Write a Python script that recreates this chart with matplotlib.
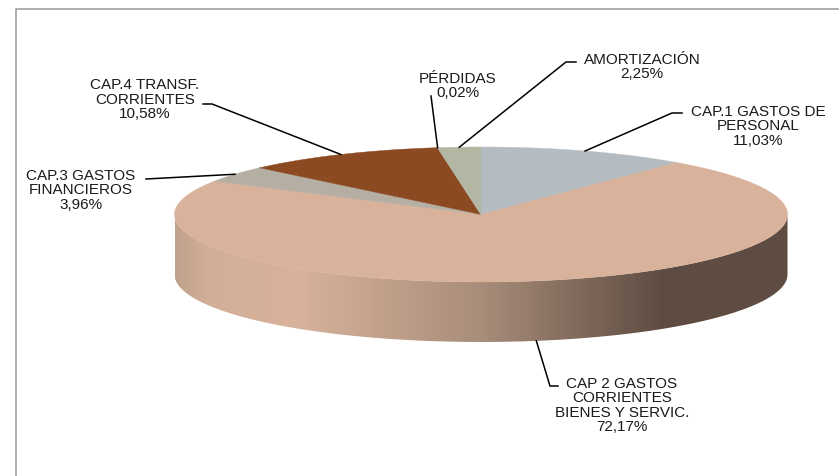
import numpy as np
import matplotlib
matplotlib.use("Agg")
import matplotlib.pyplot as plt
from matplotlib.colors import LinearSegmentedColormap
from matplotlib.patches import PathPatch, Polygon
from matplotlib.path import Path

###
### Data
###
labels = ["CAP.1 GASTOS DE\nPERSONAL",
          "CAP 2 GASTOS\nCORRIENTES\nBIENES Y SERVIC.",
          "CAP.3 GASTOS\nFINANCIEROS",
          "CAP.4 TRANSF.\nCORRIENTES",
          "PÉRDIDAS",
          "AMORTIZACIÓN"]
values = [11.03, 72.17, 3.96, 10.58, 0.02, 2.25]
value_labels = ["11,03%", "72,17%", "3,96%", "10,58%", "0,02%", "2,25%"]
colors = ["#B4BCC1", "#D8B29B", "#B5AFA3", "#8C4A23", "#B3B6A3", "#B3B6A3"]

###
### Layout (pixels)
###
W, H = 839, 477
cx, cy = 481, 215.5
rx, ry = 306.5, 67.5
depth = 60

# label centre, first bend of the leader, end of the leader next to the text
label_pos = [(758, 126.5), (622, 405.5), (81, 190.5), (145, 99.5), (458, 86), (642, 67)]
bends = [(672, 114), (550, 387), (146, 180), (212, 105), (431, 97), (566, 63)]
ends = [(682, 114), (558, 387), (146, 180), (203, 105), (431, 97), (576, 63)]

side_stops = [(0.00, "#BFA18D"), (0.05, "#D2AE98"), (0.20, "#D8B29B"),
              (0.50, "#A88D7A"), (0.80, "#5E4B41"), (1.00, "#5F4C42")]
side_cmap = LinearSegmentedColormap.from_list("side", side_stops)


def rim(angle, dy=0):
    # angle in degrees, clockwise from 12 o'clock
    a = np.radians(angle)
    return cx + rx*np.sin(a), cy - ry*np.cos(a) + dy


fig = plt.figure(figsize=(W/100, H/100), dpi=100)
ax = fig.add_axes([0, 0, 1, 1])
ax.set_xlim(0, W)
ax.set_ylim(H, 0)
ax.axis("off")

# chart frame
ax.plot([16, 16, 839], [477, 10, 10], color="#A0A0A0", lw=1.2, zorder=1)

# side of the pie
front = np.linspace(90, 270, 200)
xt, yt = rim(front)
xb, yb = rim(front[::-1], depth)
side = np.column_stack([np.r_[xt, xb], np.r_[yt, yb]])
clip = PathPatch(Path(np.vstack([side, side[:1]])), fc="none", ec="none", zorder=2)
ax.add_patch(clip)
grad = np.linspace(0, 1, 512).reshape(1, -1)
im = ax.imshow(grad, cmap=side_cmap, aspect="auto", zorder=2,
               extent=(cx-rx, cx+rx, cy+ry+depth, cy-ry))
im.set_clip_path(clip)
ax.set_xlim(0, W)
ax.set_ylim(H, 0)

# top of the pie
edges = np.r_[0, np.cumsum(values)]/np.sum(values)*360
for i, col in enumerate(colors):
    theta = np.linspace(edges[i], edges[i+1], 200)
    x, y = rim(theta)
    pts = np.column_stack([np.r_[cx, x], np.r_[cy, y]])
    ax.add_patch(Polygon(pts, closed=True, fc=col, ec=col, lw=0.3, zorder=3))

# leaders and labels
for i, name in enumerate(labels):
    mid = (edges[i] + edges[i+1])/2
    dy = depth if 90 < mid < 270 else 0
    x0, y0 = rim(mid, dy)
    ax.plot([x0, bends[i][0], ends[i][0]], [y0, bends[i][1], ends[i][1]],
            color="black", lw=1.1, zorder=4, solid_joinstyle="miter")
    ax.text(label_pos[i][0], label_pos[i][1], name + "\n" + value_labels[i],
            ha="center", va="center", ma="center",
            family="Liberation Sans", fontsize=11.0, linespacing=1.03,
            color="#1A1A1A", zorder=5)

fig.savefig("out.png", dpi=100)
